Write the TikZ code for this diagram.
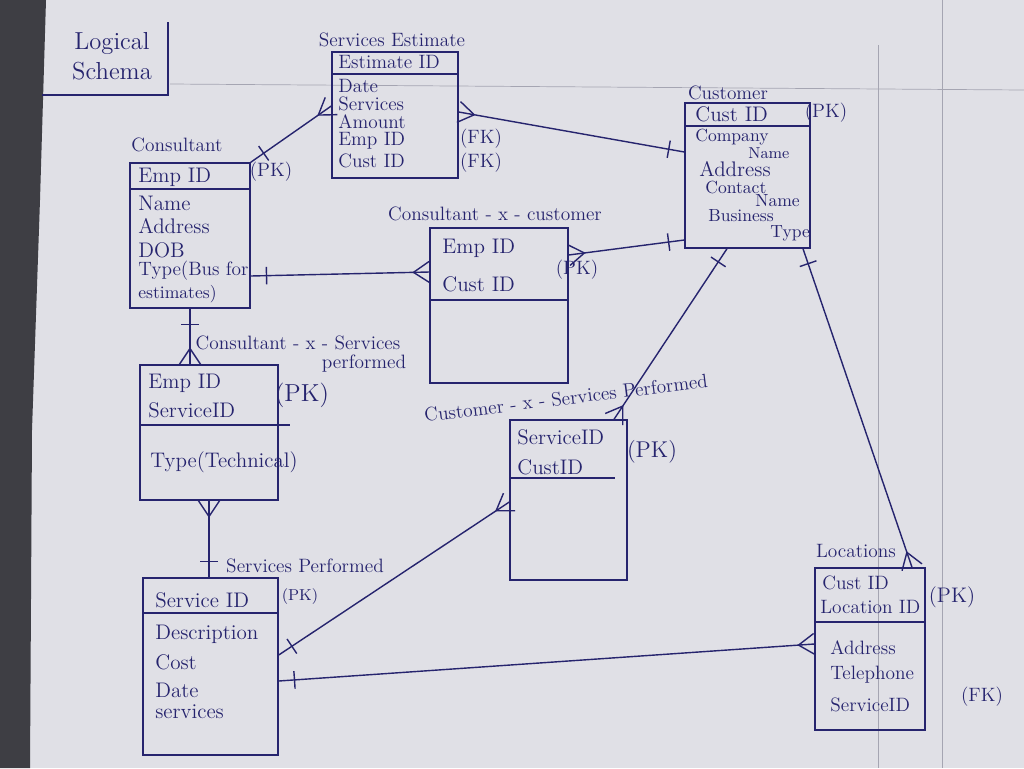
\documentclass[tikz,border=0pt]{standalone}
\usetikzlibrary{calc}
\definecolor{ink}{RGB}{38,36,110}
\definecolor{paper}{RGB}{224,224,230}
\definecolor{desk}{RGB}{62,62,68}
\definecolor{rule}{RGB}{165,165,178}
\tikzset{
  ent/.style 2 args={draw=ink, thick, minimum width=#1*0.02cm, minimum height=#2*0.02cm, inner sep=0pt},
  attr/.style={text=ink, anchor=west, inner sep=0pt, font=\fontsize{12}{13}\selectfont},
  small/.style={attr, font=\fontsize{10}{11}\selectfont},
  title/.style={text=ink, inner sep=0pt, font=\fontsize{11}{12}\selectfont},
  key/.style={text=ink, inner sep=0pt, font=\fontsize{11}{12}\selectfont},
  link/.style={draw=ink, thick},
}
% crow's foot (many) and bar (one) at end #1 of a link towards #2
\newcommand\crowmark[2]{\draw[link] ($(#1)!9pt!(#2)$) -- ($(#1)!6pt!90:(#2)$)
  ($(#1)!9pt!(#2)$) -- ($(#1)!6pt!-90:(#2)$);}
\newcommand\onemark[2]{\draw[link] ($(#1)!9pt!(#2)!5pt!90:(#2)$) -- ($(#1)!9pt!(#2)!5pt!-90:(#2)$);}
\begin{document}
\begin{tikzpicture}[x=0.02cm, y=-0.02cm]
  \useasboundingbox (0,0) rectangle (1024,768);
  % paper
  \fill[paper] (0,0) rectangle (1024,768);
  \fill[desk] (0,0) -- (46,0) -- (40,200) -- (32,430) -- (30,768) -- (0,768) -- cycle;
  \draw[rule] (170,84) -- (1024,90);
  \draw[rule] (878,45) -- (878,768);
  \draw[rule] (942,0) -- (942,768);

  % title
  \node[title, font=\fontsize{14}{17}\selectfont, align=center] (head) at (112,56) {Logical\\Schema};
  \draw[link] (168,22) -- (168,95) -- (42,95);

  % entities
  \node[ent={126}{126}] (est) at (395,115) {};
  \node[ent={125}{145}] (cust) at (747.5,175.5) {};
  \node[ent={120}{145}] (con) at (190,235.5) {};
  \node[ent={138}{155}] (cxc) at (499,305.5) {};
  \node[ent={138}{135}] (cxs) at (209,432.5) {};
  \node[ent={117}{160}] (cxsp) at (568.5,500) {};
  \node[ent={135}{177}] (sp) at (210.5,666.5) {};
  \node[ent={110}{162}] (loc) at (870,649) {};

  % Services Estimate
  \node[title] (estT) at (392,40) {Services Estimate};
  \node[attr, font=\fontsize{11}{12}\selectfont] (estK) at (338,62) {Estimate ID};
  \draw[link] (est.west |- 0,74) -- (est.east |- 0,74);
  \foreach \t/\y in {Date/86,Services/104,Amount/122,Emp ID/141,Cust ID/161}
    \node[attr, font=\fontsize{11}{12}\selectfont] (est-\y) at (338,\y) {\t};
  \node[key] (estF1) at (481,139) {(FK)};
  \node[key] (estF2) at (481,163) {(FK)};

  % Customer
  \node[title] (custT) at (728,93) {Customer};
  \node[attr] (custK) at (695,114) {Cust ID};
  \node[key] (custP) at (826,113) {(PK)};
  \draw[link] (cust.west |- 0,126) -- (cust.east |- 0,126);
  \node[small] (cust1) at (695,137) {Company};
  \node[small, font=\fontsize{9}{10}\selectfont] (cust2) at (748,153) {Name};
  \node[attr] (cust3) at (699,169) {Address};
  \node[small] (cust4) at (705,187) {Contact};
  \node[small] (cust5) at (755,201) {Name};
  \node[small] (cust6) at (708,216) {Business};
  \node[small] (cust7) at (770,233) {Type};

  % Consultant
  \node[title] (conT) at (177,145) {Consultant};
  \node[attr] (conK) at (138,177) {Emp ID};
  \node[key] (conP) at (271,172) {(PK)};
  \draw[link] (con.west |- 0,189) -- (con.east |- 0,189);
  \foreach \t/\y in {Name/203,Address/226,DOB/250}
    \node[attr] (con-\y) at (138,\y) {\t};
  \node[attr, font=\fontsize{11}{12}\selectfont] (con4) at (138,271) {Type(Bus for};
  \node[small] (con5) at (138,294) {estimates)};

  % Consultant - x - customer
  \node[title] (cxcT) at (495,214) {Consultant - x - customer};
  \node[attr] (cxc1) at (442,248) {Emp ID};
  \node[attr] (cxc2) at (442,284) {Cust ID};
  \node[key] (cxcP) at (577,270) {(PK)};
  \draw[link] (cxc.west |- 0,300) -- (cxc.east |- 0,300);

  % Consultant - x - Services performed
  \node[title] (cxsT) at (298,343) {Consultant - x - Services};
  \node[title] (cxsT2) at (364,364) {performed};
  \node[attr] (cxs1) at (148,383) {Emp ID};
  \node[attr] (cxs2) at (148,410) {ServiceID};
  \node[key, font=\fontsize{14}{16}\selectfont] (cxsP) at (302,395) {(PK)};
  \draw[link] (cxs.west |- 0,425) -- (290,425);
  \node[attr] (cxs3) at (150,462) {Type(Technical)};

  % Customer - x - Services Performed
  \node[title, rotate=7] (cxspT) at (566,398) {Customer - x - Services Performed};
  \node[attr] (cxsp1) at (517,437) {ServiceID};
  \node[attr] (cxsp2) at (517,467) {CustID};
  \node[key, font=\fontsize{13}{15}\selectfont] (cxspP) at (652,452) {(PK)};
  \draw[link] (cxsp.west |- 0,478) -- (615,478);

  % Services Performed
  \node[title] (spT) at (305,566) {Services Performed};
  \node[attr] (spK) at (155,600) {Service ID};
  \node[key, font=\fontsize{9}{10}\selectfont] (spP) at (300,597) {(PK)};
  \draw[link] (sp.west |- 0,613) -- (sp.east |- 0,613);
  \foreach \t/\y in {Description/634,Cost/662,Date/690,services/712}
    \node[attr] (sp-\y) at (155,\y) {\t};

  % Locations
  \node[title] (locT) at (856,551) {Locations};
  \node[attr, font=\fontsize{11}{12}\selectfont] (loc1) at (822,583) {Cust ID};
  \node[attr, font=\fontsize{11}{12}\selectfont] (loc2) at (820,607) {Location ID};
  \node[key, font=\fontsize{12}{14}\selectfont] (locP) at (952,597) {(PK)};
  \draw[link] (loc.west |- 0,622) -- (loc.east |- 0,622);
  \foreach \t/\y in {Address/648,Telephone/675,ServiceID/705}
    \node[attr, font=\fontsize{11}{12}\selectfont] (loc-\y) at (830,\y) {\t};
  \node[key] (locF) at (982,697) {(FK)};

  % link ends
  \coordinate (p1) at (con.north east);        \coordinate (q1) at (est.west |- 0,106);
  \coordinate (p2) at (est.east |- 0,112);     \coordinate (q2) at (cust.west |- 0,152);
  \coordinate (p3) at (con.east |- 0,276);     \coordinate (q3) at (cxc.west |- 0,272);
  \coordinate (p4) at (cxc.east |- 0,255);     \coordinate (q4) at (cust.west |- 0,240);
  \coordinate (p5) at (con.south);             \coordinate (q5) at (con.south |- cxs.north);
  \coordinate (p6) at (cxs.south);             \coordinate (q6) at (cxs.south |- sp.north);
  \coordinate (p7) at (cust.south -| 727,0);   \coordinate (q7) at (cxsp.north -| 614,0);
  \coordinate (p8) at (sp.east |- 0,655);      \coordinate (q8) at (cxsp.west |- 0,502);
  \coordinate (p9) at (sp.east |- 0,681);      \coordinate (q9) at (loc.west |- 0,644);
  \coordinate (p10) at (cust.south -| 803,0);  \coordinate (q10) at (loc.north -| 912,0);
  \foreach \i in {1,...,10}
    \draw[link] (p\i) -- (q\i);

  % cardinality marks
  \onemark{p1}{q1}   \crowmark{q1}{p1}
  \crowmark{p2}{q2}  \onemark{q2}{p2}
  \onemark{p3}{q3}   \crowmark{q3}{p3}
  \crowmark{p4}{q4}  \onemark{q4}{p4}
  \onemark{p5}{q5}   \crowmark{q5}{p5}
  \crowmark{p6}{q6}  \onemark{q6}{p6}
  \onemark{p7}{q7}   \crowmark{q7}{p7}
  \onemark{p8}{q8}   \crowmark{q8}{p8}
  \onemark{p9}{q9}   \crowmark{q9}{p9}
  \onemark{p10}{q10} \crowmark{q10}{p10}
\end{tikzpicture}
\end{document}
